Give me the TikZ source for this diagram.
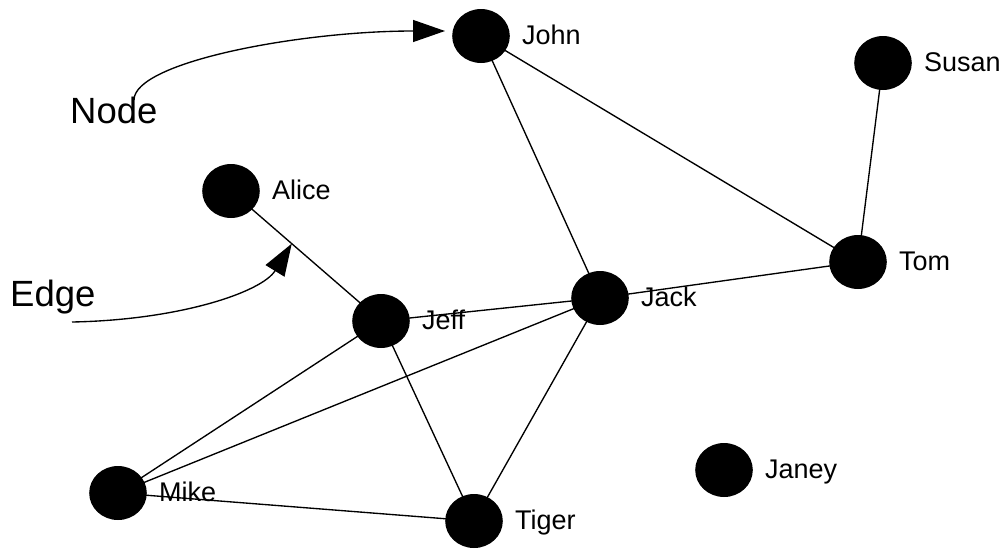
\documentclass[tikz,border=0pt]{standalone}
\usepackage{fontspec}
\setmainfont{Liberation Sans}
\usetikzlibrary{shapes.geometric,arrows.meta,backgrounds,calc}

\begin{document}
\begin{tikzpicture}[x=1pt,y=-1pt,
  person/.style={ellipse,fill=black,draw=none,inner sep=0pt,
    minimum width=57.6pt,minimum height=54pt},
  lbl/.style={font=\fontsize{27}{30}\selectfont,inner sep=0pt,
    text height=19.3pt,text depth=0pt,label distance=12pt,yshift=1.5pt},
  tie/.style={line width=1.35pt},
  callout/.style={line width=1.35pt,-{Triangle[length=32pt,width=22pt]}},
  big/.style={font=\fontsize{36.5}{40}\selectfont,inner sep=0pt}]
\useasboundingbox (0,0) rectangle (1005,549);

% people
\node[person,label={[lbl]0:John}]  (John)  at (481,36)  {};
\node[person,label={[lbl]0:Susan}] (Susan) at (883,63)  {};
\node[person,label={[lbl]0:Alice}] (Alice) at (231,191) {};
\node[person,label={[lbl]0:Tom}]   (Tom)   at (858,262) {};
\node[person,label={[lbl]0:Jack}]  (Jack)  at (600,298) {};
\node[person,label={[lbl]0:Jeff}]  (Jeff)  at (381,321) {};
\node[person,label={[lbl]0:Janey}] (Janey) at (724,470) {};
\node[person,label={[lbl]0:Mike}]  (Mike)  at (118,493) {};
\node[person,label={[lbl]0:Tiger}] (Tiger) at (474,521) {};

% relationships, drawn behind the people
\begin{pgfonlayer}{background}
  \draw[tie] (John.center) -- (Jack.center);
  \draw[tie] (John.center) -- (Tom.center);
  \draw[tie] (Susan.center) -- (Tom.center);
  \draw[tie] (Tom.center) -- (Jack.center);
  \draw[tie] (Jack.center) -- (Jeff.center);
  \draw[tie] (Alice.center) -- (Jeff.center);
  \draw[tie] (Jeff.center) -- (Mike.center);
  \draw[tie] (Jeff.center) -- (Tiger.center);
  \draw[tie] (Jack.center) -- (Mike.center);
  \draw[tie] (Jack.center) -- (Tiger.center);
  \draw[tie] (Mike.center) -- (Tiger.center);
\end{pgfonlayer}

% annotations
\node[big,anchor=base west] (nodetxt) at (70,123) {Node};
\node[big,anchor=base west] (edgetxt) at (10,306) {Edge};
\coordinate (nodestart) at (134,100);
\coordinate (nodetip) at (445,31);
\coordinate (edgestart) at (72,322);
\coordinate (edgetip) at ($(Alice.center)!0.405!(Jeff.center)$);
\draw[callout] (nodestart) .. controls (134,62) and (300,31) .. (nodetip);
\draw[callout] (edgestart) .. controls (180,320) and (262,292) .. (edgetip);
\end{tikzpicture}
\end{document}
